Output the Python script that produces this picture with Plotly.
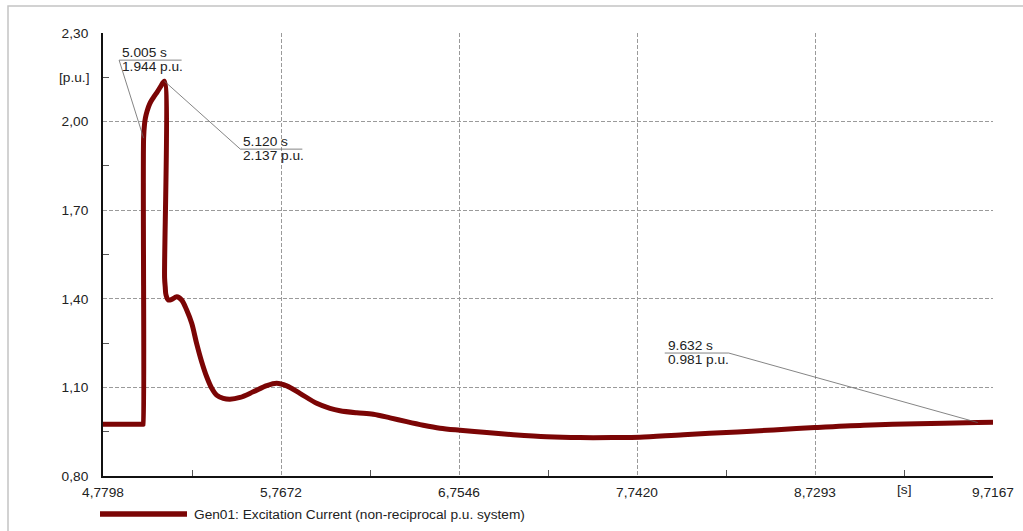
import plotly.graph_objects as go

# Excitation current of Gen01 after the disturbance
time_s = [
    4.7798, 5.0036, 5.0040, 5.0050, 5.0100, 5.0150, 5.0250, 5.0400, 5.0600, 5.0800,
    5.1000, 5.1200, 5.1215, 5.1250, 5.1292, 5.1420, 5.1610, 5.1890, 5.2160, 5.2440,
    5.2720, 5.2990, 5.3270, 5.3550, 5.3830, 5.4100, 5.4470, 5.4840, 5.5400, 5.6130,
    5.6880, 5.7430, 5.7990, 5.8720, 5.9650, 6.0390, 6.0940, 6.1870, 6.2790, 6.3720,
    6.4640, 6.5560, 6.6490, 6.7600, 6.9080, 7.0560, 7.2410, 7.4250, 7.6100, 7.7580,
    8.0000, 8.3000, 8.5000, 8.7290, 9.0000, 9.3000, 9.6320, 9.7167,
]
current_pu = [
    0.975, 0.975, 0.975, 1.944, 1.990, 2.012, 2.037, 2.062, 2.082, 2.100,
    2.119, 2.137, 1.470, 1.440, 1.413, 1.396, 1.398, 1.407, 1.396, 1.362,
    1.317, 1.249, 1.187, 1.136, 1.097, 1.074, 1.063, 1.060, 1.066, 1.085,
    1.106, 1.114, 1.105, 1.080, 1.046, 1.029, 1.021, 1.014, 1.009, 0.997,
    0.984, 0.972, 0.962, 0.955, 0.947, 0.940, 0.933, 0.930, 0.930, 0.931,
    0.940, 0.949, 0.956, 0.964, 0.972, 0.977, 0.981, 0.982,
]

x_tick_vals = [4.7798, 5.7672, 6.7546, 7.7420, 8.7293, 9.7167]
x_tick_text = ["4,7798", "5,7672", "6,7546", "7,7420", "8,7293", "9,7167"]
y_tick_vals = [0.80, 1.10, 1.40, 1.70, 2.00, 2.30]
y_tick_text = ["0,80", "1,10", "1,40", "1,70", "2,00", "2,30"]

x_unit = "[s]"
y_unit = "[p.u.]"
series_name = "Gen01: Excitation Current (non-reciprocal p.u. system)"

# Cursor read-outs: (time, value)
markers = [(5.005, 1.944), (5.120, 2.137), (9.632, 0.981)]

LINE_COLOR = "#7b0505"
FONT = "Arial, Liberation Sans, sans-serif"
TEXT_COLOR = "#222222"
FS = 13.7
GRID = dict(showgrid=True, gridcolor="#9a9a9a", griddash="4px,2px", gridwidth=1)

x_minor = [(a + b) / 2 for a, b in zip(x_tick_vals[:-1], x_tick_vals[1:])]
y_minor = [(a + b) / 2 for a, b in zip(y_tick_vals[:-1], y_tick_vals[1:])]

fig = go.Figure()
fig.add_trace(go.Scatter(
    x=time_s, y=current_pu, mode="lines", name=series_name,
    line=dict(color=LINE_COLOR, width=5, shape="spline", smoothing=0.9),
    showlegend=False,
))

fig.update_layout(
    width=1023, height=531,
    margin=dict(l=103, r=30, t=33, b=55, autoexpand=False),
    paper_bgcolor="white", plot_bgcolor="white",
    font=dict(family=FONT, size=FS, color=TEXT_COLOR),
    xaxis=dict(
        range=[x_tick_vals[0], x_tick_vals[-1]], tickmode="array",
        tickvals=x_tick_vals, ticktext=x_tick_text, ticks="",
        showline=True, linecolor="#111111", linewidth=2, automargin=False,
        tickfont=dict(size=FS), ticklabelstandoff=3,
        minor=dict(tickmode="array", tickvals=x_minor, ticks="inside",
                   ticklen=6, tickcolor="#555555", showgrid=False),
        zeroline=False, **GRID,
    ),
    yaxis=dict(
        range=[y_tick_vals[0], y_tick_vals[-1]], tickmode="array",
        tickvals=y_tick_vals, ticktext=y_tick_text, ticks="",
        showline=True, linecolor="#111111", linewidth=2, automargin=False,
        tickfont=dict(size=FS), ticklabelstandoff=10,
        minor=dict(tickmode="array", tickvals=y_minor, ticks="inside",
                   ticklen=6, tickcolor="#555555", showgrid=False),
        zeroline=False, **GRID,
    ),
)

shapes = []
annotations = []

# Outer frame of the diagram
shapes.append(dict(
    type="rect", xref="paper", yref="paper",
    xsizemode="pixel", xanchor=0, x0=-95, x1=2000,
    ysizemode="pixel", yanchor=1, y0=27, y1=-2000,
    line=dict(color="#c4c4c4", width=1.5), fillcolor="rgba(0,0,0,0)", layer="below",
))

# Callout geometry in pixels relative to the marked point:
# (underline x start, underline x end, underline height, leader attaches at start?)
callouts = [(-24.5, 38, 78, True), (76, 138, -68, True), (-313, -249, 69.5, False)]
for (t, v), (ux0, ux1, uy, from_start) in zip(markers, callouts):
    lx = ux0 if from_start else ux1
    common = dict(xref="x", yref="y", xsizemode="pixel", xanchor=t,
                  ysizemode="pixel", yanchor=v,
                  line=dict(color="#666666", width=0.8))
    shapes.append(dict(type="line", x0=ux0, x1=ux1, y0=uy, y1=uy, **common))
    shapes.append(dict(type="line", x0=lx, x1=0, y0=uy, y1=0, **common))
    annotations.append(dict(
        x=t, y=v, xref="x", yref="y", text=f"{t:.3f} s", showarrow=False,
        xanchor="left", yanchor="bottom", xshift=ux0 + 1, yshift=uy - 2,
        font=dict(size=FS, color=TEXT_COLOR),
    ))
    annotations.append(dict(
        x=t, y=v, xref="x", yref="y", text=f"{v:.3f} p.u.", showarrow=False,
        xanchor="left", yanchor="top", xshift=ux0 + 1, yshift=uy + 3,
        font=dict(size=FS, color=TEXT_COLOR),
    ))

# Axis unit labels
annotations.append(dict(
    x=0, xref="paper", y=(y_tick_vals[-2] + y_tick_vals[-1]) / 2, yref="y",
    text=y_unit, showarrow=False, xanchor="right", yanchor="middle", xshift=-12,
    font=dict(size=FS, color=TEXT_COLOR),
))
annotations.append(dict(
    x=x_minor[-1], xref="x", y=0, yref="paper",
    text=x_unit, showarrow=False, xanchor="center", yanchor="top", yshift=-4,
    font=dict(size=FS, color=TEXT_COLOR),
))

# Legend entry drawn below the axis
shapes.append(dict(
    type="line", xref="paper", yref="paper",
    xsizemode="pixel", xanchor=0, x0=-3, x1=84,
    ysizemode="pixel", yanchor=0, y0=-38, y1=-38,
    line=dict(color=LINE_COLOR, width=5.5),
))
annotations.append(dict(
    x=0, xref="paper", y=0, yref="paper", text=series_name, showarrow=False,
    xanchor="left", yanchor="middle", xshift=89, yshift=-38,
    font=dict(size=FS, color=TEXT_COLOR),
))

fig.update_layout(shapes=shapes, annotations=annotations)
fig.write_html("out.html")
